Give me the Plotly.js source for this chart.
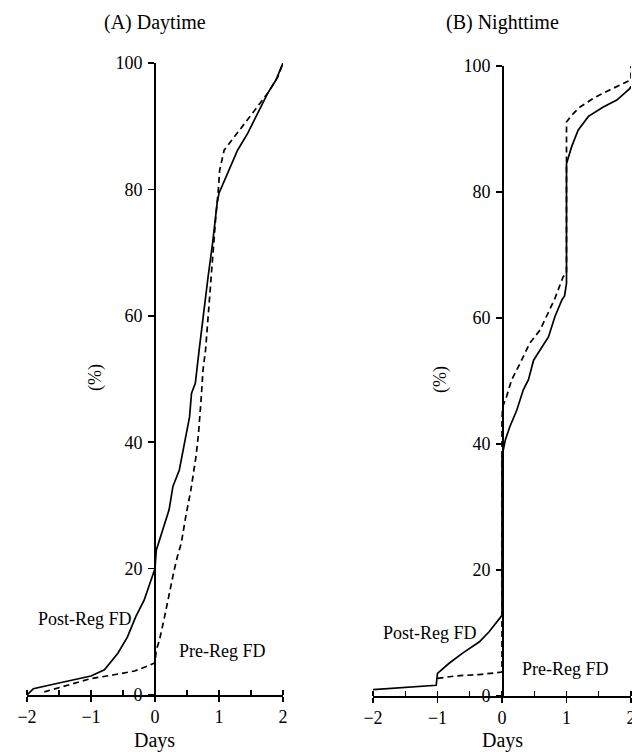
<!DOCTYPE html>
<html>
<head>
<meta charset="utf-8">
<script src="https://cdn.plot.ly/plotly-3.0.1.min.js"></script>
<style>html,body{margin:0;padding:0;background:#fff;}#chart{width:632px;height:752px;}</style>
</head>
<body>
<div id="chart"></div>
<script>
// ---- Data ----
const panelTitles = ["(A) Daytime", "(B) Nighttime"];
const xTickVals = [-2, -1, 0, 1, 2];
const xTickText = ["\u22122", "\u22121", "0", "1", "2"];
const yTickVals = [0, 20, 40, 60, 80, 100];
const seriesNames = ["Post-Reg FD", "Pre-Reg FD"];

// (A) Daytime - Post-Reg FD (solid)
const dayPostX = [-2, -1.9, -1.5, -1.0, -0.79, -0.58, -0.43, -0.30, -0.17, -0.06, 0, 0.02, 0.12, 0.22, 0.28, 0.38, 0.46, 0.54, 0.57, 0.63, 0.69, 0.75, 0.83, 0.90, 0.97, 1.0, 1.11, 1.19, 1.29, 1.45, 1.60, 1.76, 1.89, 2.0];
const dayPostY = [0, 1, 1.9, 3.0, 4.0, 6.6, 9.2, 12.4, 15, 18.2, 20, 22.9, 26.1, 29.3, 33, 35.6, 39.8, 44, 47.7, 49.3, 54.6, 59.9, 66.2, 71.5, 77.8, 79.4, 82, 83.6, 86.2, 88.9, 92, 95.2, 97.3, 100];
// (A) Daytime - Pre-Reg FD (dashed)
const dayPreX = [-1.73, -1.36, -1.0, -0.64, -0.32, -0.11, 0, 0.02, 0.07, 0.15, 0.22, 0.30, 0.35, 0.41, 0.48, 0.56, 0.64, 0.68, 0.72, 0.75, 0.79, 0.85, 0.90, 0.95, 0.99, 1.01, 1.08, 1.24, 1.45, 1.60, 1.76, 1.92, 2.0];
const dayPreY = [0.5, 1.6, 2.6, 3.2, 3.8, 4.6, 5.1, 7.1, 8.7, 12.4, 16.1, 19.8, 21.9, 24, 28.2, 32.4, 37.7, 41.4, 46.7, 51.4, 54.6, 63, 69.3, 75.7, 80, 83, 86.2, 88.3, 91, 93.1, 95.2, 97.8, 100];

// (B) Nighttime - Post-Reg FD (solid)
const nightPostX = [-2, -1.02, -1.0, -0.82, -0.61, -0.35, -0.20, -0.07, 0, 0, 0.05, 0.12, 0.23, 0.33, 0.41, 0.49, 0.59, 0.72, 0.82, 0.93, 0.97, 1.0, 1.0, 1.08, 1.18, 1.34, 1.57, 1.78, 1.98, 2.0];
const nightPostY = [1.0, 1.7, 3.6, 5.2, 6.8, 8.6, 10.2, 11.8, 12.8, 38, 40.6, 42.7, 45.4, 48.6, 50.2, 53.3, 54.9, 57, 60.2, 62.9, 63.5, 65.5, 84.5, 87.2, 89.8, 92, 93.5, 94.6, 96.4, 96.8];
// (B) Nighttime - Pre-Reg FD (dashed)
const nightPreX = [-1.0, -0.71, -0.35, -0.04, 0, 0, 0.01, 0.07, 0.15, 0.28, 0.43, 0.59, 0.74, 0.82, 0.95, 1.0, 1.0, 1.08, 1.21, 1.42, 1.67, 1.93, 2.0, 2.0];
const nightPreY = [2.8, 3.2, 3.4, 3.7, 3.8, 44, 45.9, 47.5, 50.2, 52.8, 56, 58.1, 61.3, 63.1, 66.6, 67, 91.1, 92.2, 93.5, 94.9, 96.2, 97.5, 97.8, 100];

// ---- Layout geometry (pixels -> paper fractions) ----
const W = 632, H = 752;
const px = v => v / W;
const py = v => 1 - v / H;
const FONT = "Liberation Serif, Times New Roman, serif";

const solid = {color: "#000", width: 1.7};
const dashed = {color: "#000", width: 1.7, dash: "6px,4px"};

const traces = [
  {x: dayPostX, y: dayPostY, xaxis: "x", yaxis: "y", mode: "lines", line: solid, name: seriesNames[0]},
  {x: dayPreX, y: dayPreY, xaxis: "x", yaxis: "y", mode: "lines", line: dashed, name: seriesNames[1]},
  {x: nightPostX, y: nightPostY, xaxis: "x2", yaxis: "y2", mode: "lines", line: solid, name: seriesNames[0]},
  {x: nightPreX, y: nightPreY, xaxis: "x2", yaxis: "y2", mode: "lines", line: dashed, name: seriesNames[1]}
];

function xAxis(domain, anchor) {
  return {
    domain: domain, anchor: anchor, range: [-2, 2], fixedrange: true,
    showgrid: false, zeroline: false, showline: true, linecolor: "#000", linewidth: 1.5,
    ticks: "outside", ticklen: 5, tickwidth: 1.5, tickcolor: "#000",
    tickvals: xTickVals, ticktext: xTickText, ticklabeloverflow: "allow",
    minor: {dtick: 0.5, tick0: 0, ticks: "inside", ticklen: 5, tickwidth: 1.2, tickcolor: "#000", showgrid: false},
    tickfont: {family: FONT, size: 18, color: "#000"}
  };
}
function xOverlay(over, domain, anchor) {
  return {
    overlaying: over, domain: domain, anchor: anchor, range: [-2, 2], fixedrange: true,
    showgrid: false, zeroline: false, showline: false, showticklabels: false,
    ticks: "inside", ticklen: 5, tickwidth: 1.5, tickcolor: "#000", tickvals: xTickVals
  };
}
function yAxis(domain, pos) {
  return {
    domain: domain, anchor: "free", position: pos, range: [0, 100], fixedrange: true,
    showgrid: false, zeroline: false, showline: true, linecolor: "#000", linewidth: 1.5,
    ticks: "outside", ticklen: 6, tickwidth: 1.5, tickcolor: "#000",
    tickvals: yTickVals, ticklabelstandoff: 2,
    tickfont: {family: FONT, size: 18, color: "#000"}
  };
}

const xDomA = [px(27), px(283)], yDomA = [py(695), py(63)];
const xDomB = [px(373), px(631)], yDomB = [py(696), py(66)];

const layout = {
  width: W, height: H, margin: {l: 0, r: 0, t: 0, b: 0},
  paper_bgcolor: "#fff", plot_bgcolor: "rgba(0,0,0,0)",
  showlegend: false,
  font: {family: FONT, color: "#000"},
  xaxis: xAxis(xDomA, "y"),
  yaxis: yAxis(yDomA, px(154)),
  xaxis2: xAxis(xDomB, "y2"),
  yaxis2: yAxis(yDomB, px(502)),
  xaxis3: xOverlay("x", xDomA, "y"),
  xaxis4: xOverlay("x2", xDomB, "y2"),
  annotations: [
    {text: panelTitles[0], xref: "paper", yref: "paper", x: px(154.5), y: py(22), showarrow: false, xanchor: "center", yanchor: "middle", font: {size: 20}},
    {text: panelTitles[1], xref: "paper", yref: "paper", x: px(502), y: py(22), showarrow: false, xanchor: "center", yanchor: "middle", font: {size: 20}},
    {text: "Days", xref: "paper", yref: "paper", x: px(154), y: py(740), showarrow: false, xanchor: "center", yanchor: "middle", font: {size: 20}},
    {text: "Days", xref: "paper", yref: "paper", x: px(502), y: py(740), showarrow: false, xanchor: "center", yanchor: "middle", font: {size: 20}},
    {text: "(%)", xref: "paper", yref: "paper", x: px(95), y: py(378), showarrow: false, textangle: -90, xanchor: "center", yanchor: "middle", font: {size: 18}},
    {text: "(%)", xref: "paper", yref: "paper", x: px(440), y: py(380), showarrow: false, textangle: -90, xanchor: "center", yanchor: "middle", font: {size: 18}},
    {text: seriesNames[0], xref: "x", yref: "y", x: -1.10, y: 12.0, showarrow: false, font: {size: 18}},
    {text: seriesNames[1], xref: "x", yref: "y", x: 1.05, y: 7.0, showarrow: false, font: {size: 18}},
    {text: seriesNames[0], xref: "x2", yref: "y2", x: -1.12, y: 10.0, showarrow: false, font: {size: 18}},
    {text: seriesNames[1], xref: "x2", yref: "y2", x: 0.98, y: 4.3, showarrow: false, font: {size: 18}}
  ]
};

Plotly.newPlot("chart", traces, layout, {staticPlot: true, displayModeBar: false});
</script>
</body>
</html>
